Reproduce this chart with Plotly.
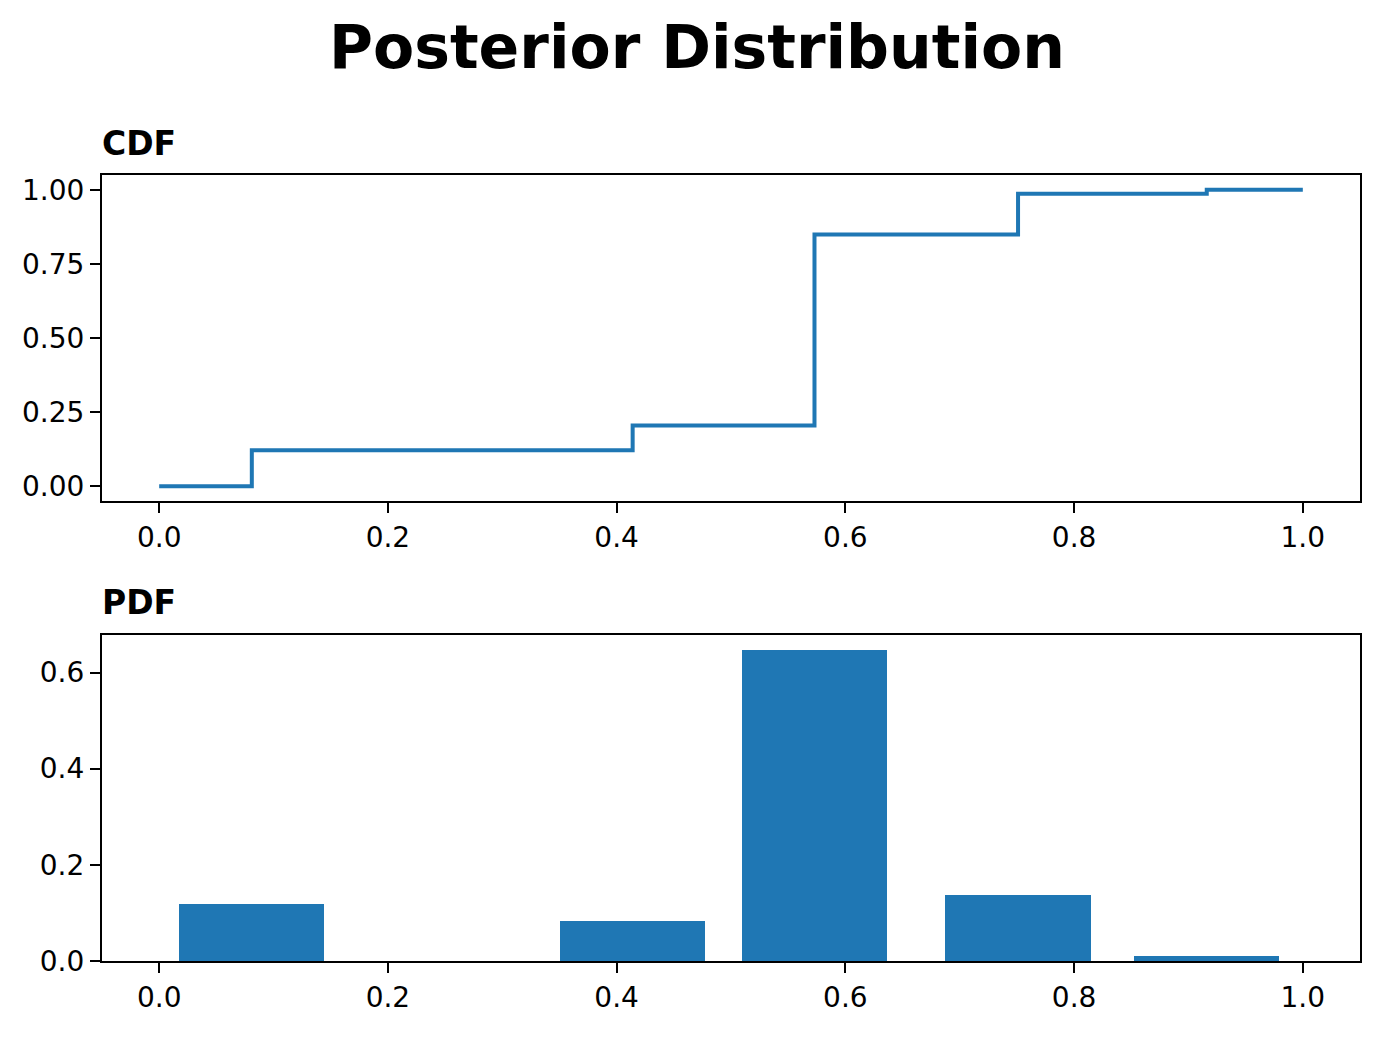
import plotly.graph_objects as go
from plotly.subplots import make_subplots

# Posterior support points (bar centres / CDF jump locations)
support = [0.081, 0.414, 0.573, 0.751, 0.916]
pdf_probs = [0.118, 0.083, 0.646, 0.137, 0.010]
bar_width = 0.127

# CDF step curve
cdf_x = [0.0, 0.081, 0.414, 0.573, 0.751, 0.916, 1.0]
cdf_y = [0.0, 0.121, 0.205, 0.849, 0.987, 1.0, 1.0]

x_ticks = [0.0, 0.2, 0.4, 0.6, 0.8, 1.0]
x_tick_text = ["0.0", "0.2", "0.4", "0.6", "0.8", "1.0"]
cdf_ticks = [0.0, 0.25, 0.5, 0.75, 1.0]
cdf_tick_text = ["0.00", "0.25", "0.50", "0.75", "1.00"]
pdf_ticks = [0.0, 0.2, 0.4, 0.6]
pdf_tick_text = ["0.0", "0.2", "0.4", "0.6"]

BLUE = "#1f77b4"
FONT = "DejaVu Sans"

# page offset of the figure (body margin) is 8px
W, H = 1386, 1038
L, R, T, B = 94, 34, 167, 85
plot_h = H - T - B  # 786
cdf_bottom = (961 - 500) / plot_h
pdf_top = (961 - 634) / plot_h

fig = make_subplots(rows=2, cols=1, vertical_spacing=cdf_bottom - pdf_top)

fig.add_trace(go.Scatter(x=cdf_x, y=cdf_y, mode="lines", line=dict(color=BLUE, width=4, shape="hv"),
                         showlegend=False), row=1, col=1)
fig.add_trace(go.Bar(x=support, y=pdf_probs, width=bar_width, marker=dict(color=BLUE, line=dict(width=0)),
                     showlegend=False), row=2, col=1)

axis_common = dict(showline=True, linecolor="black", linewidth=2.2, mirror=True,
                   ticks="outside", ticklen=10, tickwidth=2.2, tickcolor="black",
                   showgrid=False, zeroline=False,
                   tickfont=dict(family=FONT, size=28, color="black"))

fig.update_xaxes(range=[-0.05, 1.05], tickvals=x_ticks, ticktext=x_tick_text, **axis_common)
fig.update_yaxes(**axis_common)
fig.update_yaxes(range=[-0.05, 1.05], tickvals=cdf_ticks, ticktext=cdf_tick_text, row=1, col=1)
fig.update_yaxes(range=[0, 0.678], tickvals=pdf_ticks, ticktext=pdf_tick_text, row=2, col=1)

fig.update_layout(
    width=W, height=H,
    margin=dict(l=L, r=R, t=T, b=B),
    paper_bgcolor="white", plot_bgcolor="white",
    font=dict(family=FONT, color="black"),
    title=dict(text="<b>Posterior Distribution</b>", x=(697 - 8) / W, xanchor="center",
               y=1 - (47 - 8) / H, yanchor="middle",
               font=dict(family=FONT, size=60, color="black")),
    bargap=0,
)

fig.add_annotation(text="<b>CDF</b>", xref="paper", yref="paper", x=0, y=1.0,
                   xanchor="left", yanchor="bottom", yshift=10, xshift=-2, showarrow=False,
                   font=dict(family=FONT, size=33, color="black"))
fig.add_annotation(text="<b>PDF</b>", xref="paper", yref="paper", x=0, y=pdf_top,
                   xanchor="left", yanchor="bottom", yshift=10, xshift=-2, showarrow=False,
                   font=dict(family=FONT, size=33, color="black"))

fig.write_html("out.html")
